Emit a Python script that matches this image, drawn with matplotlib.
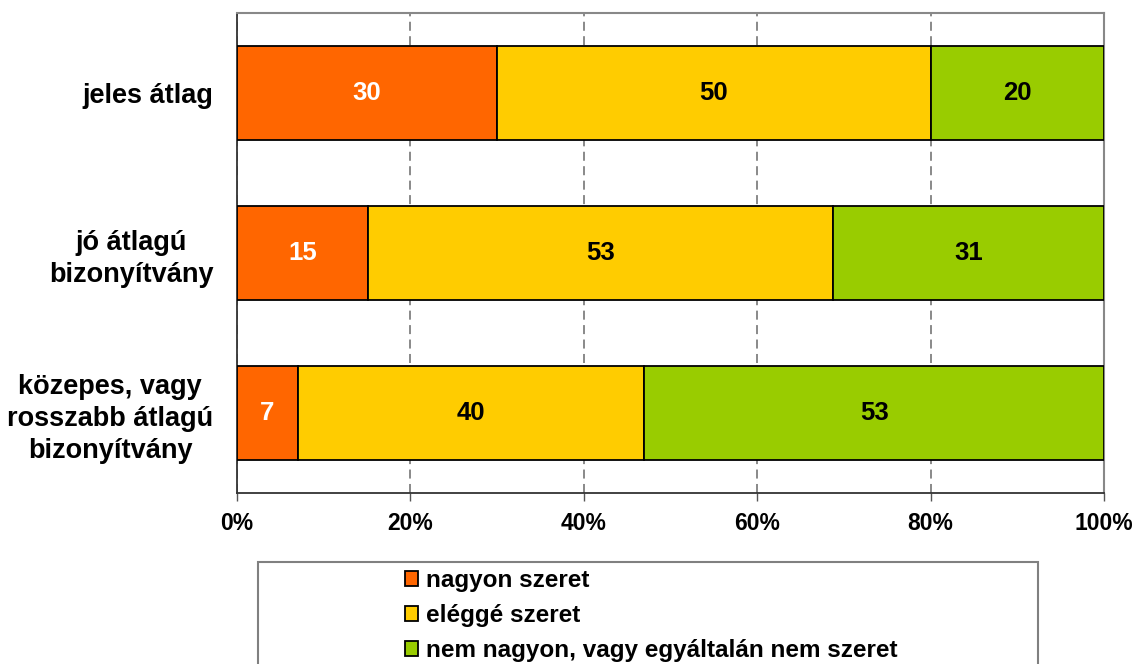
import numpy as np
import matplotlib
matplotlib.use("Agg")
import matplotlib.pyplot as plt
from matplotlib.patches import Rectangle, Patch

plt.rcParams['font.family'] = ['Liberation Sans', 'DejaVu Sans']
plt.rcParams['font.weight'] = 'bold'

categories = ["jeles átlag", "jó átlagú\nbizonyítvány", "közepes, vagy\nrosszabb átlagú\nbizonyítvány"]
series_names = ["nagyon szeret", "eléggé szeret", "nem nagyon, vagy egyáltalán nem szeret"]
nagyon = [30, 15, 7]
eleggé = [50, 53, 40]
nem = [20, 31, 53]
x_ticks = [0, 20, 40, 60, 80, 100]

colors = ["#FF6600", "#FFCC00", "#99CC00"]
text_colors = ["white", "black", "black"]

fig = plt.figure(figsize=(11.4, 6.64), dpi=100)
ax = fig.add_axes([237 / 1140, 1 - 493 / 664, 867 / 1140, 480 / 664])

values = np.array([nagyon, eleggé, nem], dtype=float)
shares = values / values.sum(axis=0) * 100  # 100% stacked
y = np.arange(len(categories))
left = np.zeros(len(categories))
for i in range(len(series_names)):
    bars = ax.barh(y, shares[i], left=left, height=0.5875, color=colors[i],
                   edgecolor="black", linewidth=1.3, zorder=3)
    for j, b in enumerate(bars):
        ax.text(left[j] + shares[i][j] / 2, y[j], f"{int(values[i][j])}",
                ha="center", va="center", fontsize=18.5, fontweight="bold",
                color=text_colors[i], zorder=4)
    left += shares[i]

ax.set_xlim(0, 100)
ax.set_ylim(2.5, -0.5)
ax.set_xticks(x_ticks)
ax.set_xticklabels([f"{t}%" for t in x_ticks], fontsize=16.5, fontweight="bold")
ax.set_yticks(y)
ax.set_yticklabels(categories, fontsize=19.5, fontweight="bold")
for t in ax.get_yticklabels():
    t.set_multialignment("center")
    t.set_linespacing(1.3)
ax.tick_params(axis="y", length=0, pad=17)
ax.tick_params(axis="x", direction="out", length=6, width=1, color="#555555", pad=8)

ax.xaxis.grid(True, linestyle=(0, (5, 3)), color="#808080", linewidth=1.3, zorder=0)
ax.set_axisbelow(True)
for s in ["top", "right"]:
    ax.spines[s].set_color("#888888")
    ax.spines[s].set_linewidth(1.5)
for s in ["left", "bottom"]:
    ax.spines[s].set_color("#333333")
    ax.spines[s].set_linewidth(1.3)

# legend frame (runs off the bottom of the picture)
fig.patches.append(Rectangle((258 / 1140, -0.05), 780 / 1140, (664 - 562) / 664 + 0.05,
                             transform=fig.transFigure, facecolor="white",
                             edgecolor="#808080", linewidth=1.5, zorder=1))
handles = [Patch(facecolor=c, edgecolor="black", linewidth=1.3) for c in colors]
fig.legend(handles, series_names, loc="upper left", bbox_to_anchor=(400 / 1140, 1 - 564 / 664),
           frameon=False, handlelength=0.55, handleheight=0.55,
           handletextpad=0.3, labelspacing=0.5, borderaxespad=0, borderpad=0.2,
           prop={"weight": "bold", "size": 17.5})

fig.savefig("out.png", dpi=100)
